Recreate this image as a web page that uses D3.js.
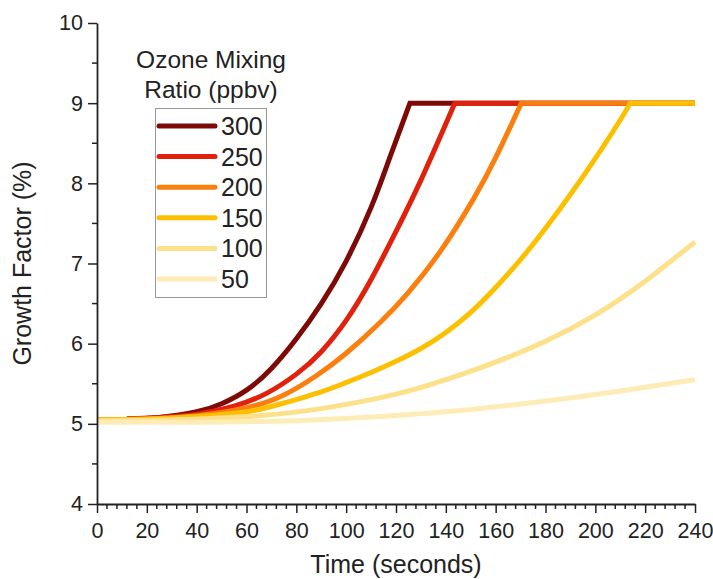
<!DOCTYPE html>
<html>
<head>
<meta charset="utf-8">
<script src="https://cdn.jsdelivr.net/npm/d3@7"></script>
<style>
  body { margin: 0; background: #fff; }
  svg text { font-family: "Liberation Sans", Arial, sans-serif; fill: #222; }
</style>
</head>
<body>
<div id="chart"></div>
<script>
// ozone mixing ratios (ppbv), legend order
const ratios = ["300", "250", "200", "150", "100", "50"];
const colours = ["#7d0a06", "#e0220c", "#fb7f0e", "#fdc000", "#fde08a", "#feecb6"];

// [time (s), growth factor (%)]
const series300 = [[12, 5.06], [25, 5.08], [40, 5.15], [50, 5.25], [60, 5.42], [70, 5.69], [80, 6.06], [90, 6.5], [100, 7.03], [110, 7.7], [117.6, 8.33], [125.6, 9.0], [240, 9.0]];
const series250 = [[12, 5.06], [25, 5.08], [40, 5.12], [55, 5.22], [68, 5.38], [80, 5.62], [90, 5.9], [100, 6.29], [110, 6.8], [120, 7.4], [130, 8.04], [143.6, 9.0], [240, 9.0]];
const series200 = [[0, 5.05], [20, 5.06], [40, 5.1], [60, 5.2], [75, 5.36], [88, 5.6], [100, 5.88], [113.5, 6.26], [125, 6.64], [138, 7.16], [151, 7.8], [160, 8.32], [170.3, 9.0], [240, 9.0]];
const series150 = [[0, 5.05], [20, 5.06], [40, 5.09], [60, 5.15], [75, 5.26], [90, 5.4], [100, 5.515], [110, 5.64], [120, 5.78], [130, 5.94], [140, 6.14], [150, 6.39], [160, 6.7], [170, 7.05], [180, 7.44], [190, 7.86], [200, 8.31], [210, 8.79], [214, 9.0], [240, 9.0]];
const series100 = [[0, 5.04], [30, 5.05], [60, 5.09], [90, 5.19], [120, 5.37], [140, 5.55], [160, 5.77], [180, 6.03], [200, 6.36], [220, 6.78], [240, 7.27]];
const series50 = [[0, 5.02], [40, 5.02], [80, 5.04], [113.5, 5.09], [150, 5.18], [181.7, 5.29], [210, 5.41], [240, 5.55]];
const allSeries = [series300, series250, series200, series150, series100, series50];

const xTicks = d3.range(0, 241, 20);
const yTicks = d3.range(4, 11, 1);

const width = 713, height = 579;
const margin = { top: 23, right: 18, bottom: 75, left: 97 };

const svg = d3.select("#chart")
  .append("svg")
  .attr("width", width)
  .attr("height", height);

const x = d3.scaleLinear().domain([0, 240]).range([margin.left, width - margin.right]);
const y = d3.scaleLinear().domain([4, 10]).range([height - margin.bottom, margin.top]);

// curves: smooth rise, straight plateau once the maximum is reached
const rise = d3.line().x(d => x(d[0])).y(d => y(d[1])).curve(d3.curveNatural);
const flat = d3.line().x(d => x(d[0])).y(d => y(d[1]));

const lines = svg.append("g").attr("class", "lines");
allSeries.forEach((s, i) => {
  const top = d3.max(s, d => d[1]);
  const k = s.findIndex(d => d[1] === top);
  const path = k < s.length - 1
    ? rise(s.slice(0, k + 1)) + "L" + flat(s.slice(k)).slice(1)
    : rise(s);
  lines.append("path")
    .attr("d", path)
    .attr("fill", "none")
    .attr("stroke", colours[i])
    .attr("stroke-width", 5)
    .attr("stroke-linejoin", "miter");
});

// axes
const xAxis = svg.append("g")
  .attr("transform", `translate(0, ${y(4)})`)
  .call(d3.axisBottom(x).tickValues(xTicks).tickSize(9).tickSizeOuter(0).tickFormat(d3.format("d")));
xAxis.append("g").selectAll("line")
  .data(d3.range(0, 241, 4).filter(d => d % 20 !== 0))
  .enter().append("line")
  .attr("x1", d => x(d)).attr("x2", d => x(d))
  .attr("y1", 0).attr("y2", 5)
  .attr("stroke", "#222").attr("stroke-width", 1.5);

const yAxis = svg.append("g")
  .attr("transform", `translate(${x(0)}, 0)`)
  .call(d3.axisLeft(y).tickValues(yTicks).tickSize(9).tickSizeOuter(0).tickFormat(d3.format("d")));
yAxis.append("g").selectAll("line")
  .data(d3.range(4.5, 10, 1))
  .enter().append("line")
  .attr("y1", d => y(d)).attr("y2", d => y(d))
  .attr("x1", 0).attr("x2", -5)
  .attr("stroke", "#222").attr("stroke-width", 1.5);

[xAxis, yAxis].forEach(a => {
  a.select(".domain").attr("stroke", "#222").attr("stroke-width", 1.8);
  a.selectAll(".tick line").attr("stroke", "#222").attr("stroke-width", 1.5);
  a.selectAll(".tick text").attr("font-size", 21.5).attr("fill", "#222");
});
xAxis.selectAll(".tick text").attr("dy", "1.0em");
yAxis.selectAll(".tick text").attr("dx", "-0.1em");

svg.append("text")
  .attr("x", (x(0) + x(240)) / 2)
  .attr("y", 573)
  .attr("text-anchor", "middle")
  .attr("font-size", 25)
  .text("Time (seconds)");

svg.append("text")
  .attr("transform", `translate(31, ${(y(4) + y(10)) / 2}) rotate(-90)`)
  .attr("text-anchor", "middle")
  .attr("font-size", 25)
  .text("Growth Factor (%)");

// legend
const legend = svg.append("g").attr("class", "legend");
legend.append("text")
  .attr("x", 211).attr("y", 68)
  .attr("text-anchor", "middle")
  .attr("font-size", 24.5)
  .text("Ozone Mixing");
legend.append("text")
  .attr("x", 211).attr("y", 98)
  .attr("text-anchor", "middle")
  .attr("font-size", 24.5)
  .text("Ratio (ppbv)");
legend.append("rect")
  .attr("x", 155.5).attr("y", 108.5)
  .attr("width", 111).attr("height", 189)
  .attr("fill", "none")
  .attr("stroke", "#999")
  .attr("stroke-width", 1);

const rows = legend.selectAll(".row")
  .data(ratios)
  .enter().append("g")
  .attr("class", "row")
  .attr("transform", (d, i) => `translate(0, ${126 + i * 30.6})`);
rows.append("line")
  .attr("x1", 159).attr("x2", 215)
  .attr("stroke", (d, i) => colours[i])
  .attr("stroke-width", 5)
  .attr("stroke-linecap", "round");
rows.append("text")
  .attr("x", 221)
  .attr("dy", "0.36em")
  .attr("font-size", 25)
  .text(d => d);
</script>
</body>
</html>
